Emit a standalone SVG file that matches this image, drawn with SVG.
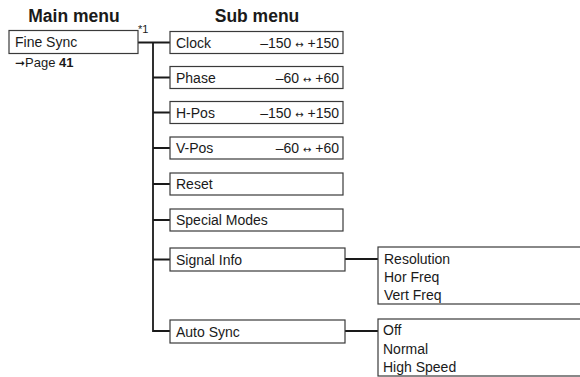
<svg xmlns="http://www.w3.org/2000/svg" width="580" height="377" viewBox="0 0 580 377">
<style>
text{font-family:"Liberation Sans",Arial,sans-serif;fill:#1a1a1a;}
.t{font-size:14px;}
.h{font-size:17.5px;font-weight:bold;}
.box{fill:#fff;stroke:#3a3a3a;stroke-width:1.2;}
.ln{fill:none;stroke:#1a1a1a;stroke-width:1.8;}
.ar{font-family:"DejaVu Sans",sans-serif;font-size:10px;}
</style>
<rect width="580" height="377" fill="#fff"/>
<text class="h" x="74" y="22" text-anchor="middle">Main menu</text>
<text class="h" x="257" y="22" text-anchor="middle">Sub menu</text>
<g id="connectors">
<path class="ln" d="M138 42.5H170 M153 42.5V331H170 M153 77.5H170 M153 112.5H170 M153 148H170 M153 184H170 M153 220H170 M153 259.5H170 M345 259H378 M345 331H378"/>
</g>
<g id="fine-sync">
<rect class="box" x="9" y="30.5" width="129" height="23"/>
<text class="t" x="15" y="47">Fine Sync</text>
<text style="font-size:11px" x="138" y="33">*1</text>
<text style="font-size:13px" x="15" y="67"><tspan style="font-family:'DejaVu Sans',sans-serif;font-size:12px">➞</tspan>Page <tspan font-weight="bold">41</tspan></text>
</g>
<g id="clock">
<rect class="box" x="170" y="31.5" width="173" height="22"/>
<text class="t" x="176" y="47.5">Clock</text>
<text class="t" x="339" y="47.5" text-anchor="end">–150 <tspan class="ar">↔</tspan> +150</text>
</g>
<g id="phase">
<rect class="box" x="170" y="66.5" width="173" height="22"/>
<text class="t" x="176" y="82.5">Phase</text>
<text class="t" x="339" y="82.5" text-anchor="end">–60 <tspan class="ar">↔</tspan> +60</text>
</g>
<g id="h-pos">
<rect class="box" x="170" y="101.5" width="173" height="22"/>
<text class="t" x="176" y="117.5">H-Pos</text>
<text class="t" x="339" y="117.5" text-anchor="end">–150 <tspan class="ar">↔</tspan> +150</text>
</g>
<g id="v-pos">
<rect class="box" x="170" y="137" width="173" height="22"/>
<text class="t" x="176" y="153">V-Pos</text>
<text class="t" x="339" y="153" text-anchor="end">–60 <tspan class="ar">↔</tspan> +60</text>
</g>
<g id="reset">
<rect class="box" x="170" y="173" width="173" height="22"/>
<text class="t" x="176" y="189">Reset</text>
</g>
<g id="special-modes">
<rect class="box" x="170" y="209" width="173" height="22"/>
<text class="t" x="176" y="225">Special Modes</text>
</g>
<g id="signal-info">
<rect class="box" x="170" y="248" width="175" height="23"/>
<text class="t" x="176" y="264.5">Signal Info</text>
</g>
<g id="auto-sync">
<rect class="box" x="170" y="320" width="175" height="23"/>
<text class="t" x="176" y="336.5">Auto Sync</text>
</g>
<g id="signal-info-list">
<rect class="box" x="378" y="247" width="210" height="57"/>
<text class="t" x="384" y="264">Resolution</text>
<text class="t" x="384" y="282">Hor Freq</text>
<text class="t" x="384" y="300">Vert Freq</text>
</g>
<g id="auto-sync-list">
<rect class="box" x="378" y="319" width="210" height="57"/>
<text class="t" x="383" y="335">Off</text>
<text class="t" x="383" y="354">Normal</text>
<text class="t" x="383" y="372">High Speed</text>
</g>
</svg>
